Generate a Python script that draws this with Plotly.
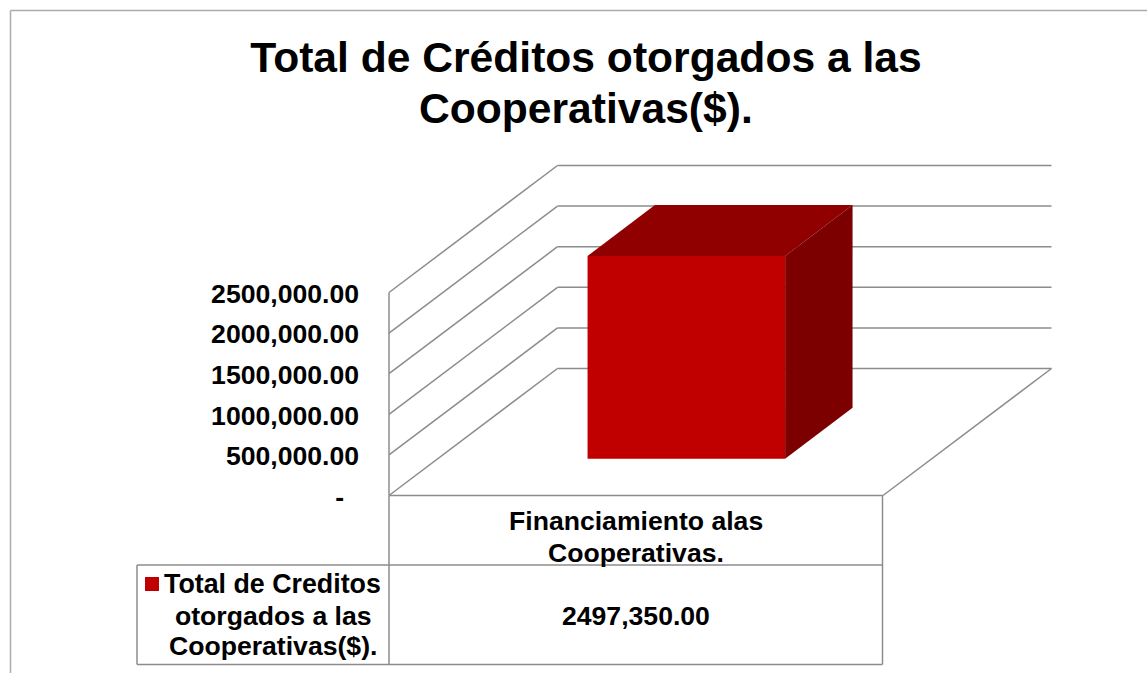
"""
Total de Creditos otorgados a las Cooperativas: 3D-looking column with data table
"""

import plotly.graph_objects as go

# data
title_lines = ["Total de Créditos otorgados a las", "Cooperativas($)."]
category_lines = ["Financiamiento alas", "Cooperativas."]
series_lines = ["Total de Creditos", "otorgados a las", "Cooperativas($)."]
series_value = 2497350
tick_values = [0, 500000, 1000000, 1500000, 2000000, 2500000]

WIDTH, HEIGHT = 1147, 673
GRID = "#8c8c8c"
FONT = "Liberation Sans"

# pixel frame of the plot
LEFT, RIGHT, TOP, BOTTOM = 387, 1054, 164, 498
PX_PER_CAT = 494           # floor front edge
PX_PER_VALUE = 203 / 2500000
# the depth of the floor, in data units
DEPTH_X = 168.5 / PX_PER_CAT
DEPTH_Y = 127 / PX_PER_VALUE
# bar placement
BAR_X = (0.303, 0.703)
BAR_D = (0.29, 0.69)


def money(v):
    # the source writes only the thousands comma: 2497,350.00
    whole, dec = f"{v:.2f}".split(".")
    if len(whole) > 3:
        whole = whole[:-3] + "," + whole[-3:]
    return whole + "." + dec


def project(x, y, d):
    return x + d * DEPTH_X, y + d * DEPTH_Y


def paper_line(x0, y0, x1, y1, color=GRID, width=1.5):
    # the page coordinates are converted because the table sits outside the axes
    return dict(type="line", xref="paper", yref="paper", x0=(x0 - LEFT) / (RIGHT - LEFT),
                x1=(x1 - LEFT) / (RIGHT - LEFT), y0=(BOTTOM - y0) / (BOTTOM - TOP),
                y1=(BOTTOM - y1) / (BOTTOM - TOP), line=dict(color=color, width=width))


def paper_text(text, x, y, size=26.6):
    return dict(text=f"<b>{text}</b>", xref="paper", yref="paper", showarrow=False,
                x=(x - LEFT) / (RIGHT - LEFT), y=(BOTTOM - y) / (BOTTOM - TOP),
                xanchor="center", yanchor="middle",
                font=dict(family=FONT, size=size, color="black"))


fig = go.Figure()

# front face
x_a, y_a = project(BAR_X[0], 0, BAR_D[0])
x_b, y_b = project(BAR_X[1], 0, BAR_D[0])
fig.add_trace(go.Bar(x=[(x_a + x_b) / 2], y=[series_value], base=[y_a], width=[x_b - x_a],
                     marker=dict(color="#C00000", line=dict(width=0)), showlegend=False))

# top and side faces
top = [project(BAR_X[0], series_value, BAR_D[0]), project(BAR_X[1], series_value, BAR_D[0]),
       project(BAR_X[1], series_value, BAR_D[1]), project(BAR_X[0], series_value, BAR_D[1])]
side = [project(BAR_X[1], 0, BAR_D[0]), project(BAR_X[1], series_value, BAR_D[0]),
        project(BAR_X[1], series_value, BAR_D[1]), project(BAR_X[1], 0, BAR_D[1])]
for face, color in [(top, "#900000"), (side, "#7C0000")]:
    fig.add_trace(go.Scatter(x=[p[0] for p in face], y=[p[1] for p in face], mode="lines",
                             fill="toself", fillcolor=color, line=dict(width=0), showlegend=False))

# walls and floor
shapes = []
grid_line = dict(color=GRID, width=1.5)
for t in tick_values:
    back_x, back_y = project(0, t, 1)
    shapes.append(dict(type="line", xref="x", yref="y", layer="below", x0=0, y0=t, x1=back_x, y1=back_y,
                       line=grid_line))
    shapes.append(dict(type="line", xref="x", yref="y", layer="below", x0=back_x, y0=back_y, x1=back_x + 1,
                       y1=back_y, line=grid_line))
shapes.append(dict(type="line", xref="x", yref="y", layer="below", x0=0, y0=0, x1=0, y1=tick_values[-1],
                   line=grid_line))
shapes.append(dict(type="line", xref="x", yref="y", layer="below", x0=1, y0=0, x1=1 + DEPTH_X, y1=DEPTH_Y,
                   line=grid_line))

# data table and outer frame
shapes += [
    paper_line(389, 495.5, 883, 495.5),
    paper_line(389, 495.5, 389, 664.5),
    paper_line(882.5, 495.5, 882.5, 664.5),
    paper_line(137, 565, 882.5, 565),
    paper_line(137, 664.5, 882.5, 664.5),
    paper_line(137, 565, 137, 664.5),
    paper_line(10.5, 10.5, 1147, 10.5, "#ababab", 1.5),
    paper_line(10.5, 10.5, 10.5, 673, "#ababab", 1.5),
    dict(type="rect", xref="paper", yref="paper", x0=(145 - LEFT) / (RIGHT - LEFT), x1=(159 - LEFT) / (RIGHT - LEFT),
         y0=(BOTTOM - 591) / (BOTTOM - TOP), y1=(BOTTOM - 577) / (BOTTOM - TOP),
         fillcolor="#C00000", line=dict(width=0)),
]

annotations = [
    paper_text(title_lines[1], 586, 108, size=42.6),
    paper_text(category_lines[0], 636, 521),
    paper_text(category_lines[1], 636, 553),
    paper_text(series_lines[0], 272.5, 584, size=26.8),
    paper_text(series_lines[1], 273, 616),
    paper_text(series_lines[2], 273, 646),
    paper_text(money(series_value), 636, 616),
]

fig.update_layout(
    width=WIDTH,
    height=HEIGHT,
    autosize=False,
    paper_bgcolor="white",
    plot_bgcolor="white",
    margin=dict(l=LEFT, r=WIDTH - RIGHT, t=TOP, b=HEIGHT - BOTTOM, pad=0),
    title=dict(text=f"<b>{title_lines[0]}</b>", x=586 / WIDTH,
               xanchor="center", y=1 - 57 / HEIGHT, yanchor="middle",
               font=dict(family=FONT, size=42.6, color="black")),
    xaxis=dict(range=[(LEFT - 389) / PX_PER_CAT, (RIGHT - 389) / PX_PER_CAT], visible=False),
    yaxis=dict(range=[(495.5 - BOTTOM) / PX_PER_VALUE, (495.5 - TOP) / PX_PER_VALUE], tickvals=tick_values,
               ticktext=["-\u00a0\u00a0" if t == 0 else money(t) for t in tick_values], showgrid=False,
               zeroline=False, showline=False, ticks="", ticklabelstandoff=27, ticklabelshift=1,
               tickfont=dict(family=FONT, size=26.6, color="black", weight="bold")),
    shapes=shapes,
    annotations=annotations,
    showlegend=False,
)

fig.write_html("out.html", config={"displayModeBar": False},
               post_script="document.body.style.margin='0';document.documentElement.style.overflow='hidden';")
